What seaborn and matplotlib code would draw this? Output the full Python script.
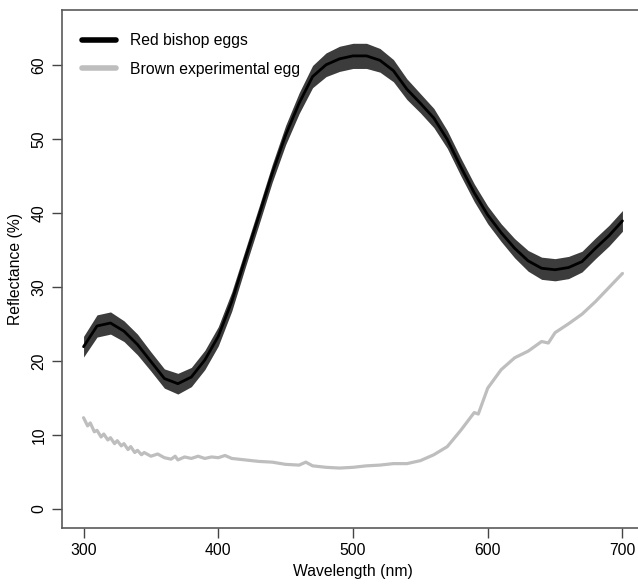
import numpy as np
import pandas as pd
import matplotlib
matplotlib.use("Agg")
import matplotlib.pyplot as plt
from matplotlib.lines import Line2D
import seaborn as sns

# Red bishop eggs: mean reflectance and error half-width, every 10 nm
red_nm = [300, 310, 320, 330, 340, 350, 360, 370, 380, 390,
          400, 410, 420, 430, 440, 450, 460, 470, 480, 490,
          500, 510, 520, 530, 540, 550, 560, 570, 580, 590,
          600, 610, 620, 630, 640, 650, 660, 670, 680, 690, 700]
red_mean = [21.9, 24.7, 25.1, 24.0, 22.2, 19.9, 17.6, 16.9, 17.8, 20.1,
            23.3, 28.0, 33.8, 39.5, 45.3, 50.5, 54.8, 58.4, 60.0, 60.8,
            61.2, 61.2, 60.6, 59.2, 56.7, 54.8, 52.8, 49.9, 46.2, 42.7,
            39.7, 37.3, 35.2, 33.5, 32.5, 32.3, 32.6, 33.4, 35.2, 36.9, 38.9]
red_err = [1.4, 1.5, 1.5, 1.4, 1.4, 1.3, 1.3, 1.4, 1.3, 1.3,
           1.3, 1.3, 1.2, 1.2, 1.2, 1.3, 1.4, 1.5, 1.6, 1.7,
           1.7, 1.7, 1.6, 1.5, 1.4, 1.3, 1.3, 1.2, 1.2, 1.2,
           1.2, 1.2, 1.3, 1.4, 1.5, 1.5, 1.5, 1.4, 1.4, 1.4, 1.4]

# Brown experimental egg reflectance
brown_nm = [300, 303, 305, 308, 310, 313, 315, 318, 320, 323, 325, 328, 330,
            333, 335, 338, 340, 343, 345, 350, 355, 360, 365, 368, 370, 375,
            380, 385, 390, 395, 400, 405, 410, 420, 430, 440, 450, 460, 465,
            470, 480, 490, 500, 510, 520, 530, 540, 550, 560, 570, 580, 590,
            593, 600, 610, 620, 630, 640, 645, 650, 660, 670, 680, 690, 700]
brown_refl = [12.3, 11.2, 11.6, 10.4, 10.6, 9.7, 10.1, 9.3, 9.6, 8.8, 9.2, 8.5, 8.8,
              8.0, 8.4, 7.6, 7.9, 7.3, 7.6, 7.1, 7.4, 6.9, 6.7, 7.1, 6.6, 7.0,
              6.8, 7.1, 6.8, 7.0, 6.9, 7.2, 6.8, 6.6, 6.4, 6.3, 6.0, 5.9, 6.3,
              5.8, 5.6, 5.5, 5.6, 5.8, 5.9, 6.1, 6.1, 6.5, 7.3, 8.4, 10.6, 13.0,
              12.8, 16.3, 18.8, 20.4, 21.3, 22.6, 22.4, 23.8, 25.0, 26.3, 28.0, 29.9, 31.8]

red_df = pd.DataFrame({"nm": red_nm, "refl": red_mean, "err": red_err})
brown_df = pd.DataFrame({"nm": brown_nm, "refl": brown_refl})

sns.set_style("ticks")
plt.rcParams["font.family"] = ["Liberation Sans", "DejaVu Sans"]
plt.rcParams["text.color"] = "black"
plt.rcParams["axes.labelcolor"] = "black"
plt.rcParams["xtick.labelcolor"] = "black"
plt.rcParams["ytick.labelcolor"] = "black"
fs = 11.3

fig = plt.figure(figsize=(6.38, 5.86), dpi=100)
ax = fig.add_axes([62 / 638, 58 / 586, 582 / 638, 518 / 586])

ax.fill_between(red_df["nm"], red_df["refl"] - red_df["err"], red_df["refl"] + red_df["err"],
                color="#3c3c3c", lw=0)
sns.lineplot(data=red_df, x="nm", y="refl", color="black", lw=2.0, ax=ax)
sns.lineplot(data=brown_df, x="nm", y="refl", color="#bebebe", lw=2.3, ax=ax)

ax.set_xlim(284, 716)
ax.set_ylim(-2.6, 67.4)
ax.set_xticks([300, 400, 500, 600, 700])
ax.set_yticks([0, 10, 20, 30, 40, 50, 60])
ax.tick_params(axis="both", direction="out", length=7, width=1, color="#444444",
               labelsize=fs, labelcolor="black", pad=4)
plt.setp(ax.get_yticklabels(), rotation=90, va="center")
for sp in ax.spines.values():
    sp.set_color("#5a5a5a")
    sp.set_linewidth(1.2)

ax.set_xlabel("Wavelength (nm)", fontsize=fs, labelpad=4, color="black")
ax.set_ylabel("Reflectance (%)", fontsize=fs, labelpad=6, color="black")

handles = [Line2D([], [], color="black", lw=4),
           Line2D([], [], color="#bebebe", lw=4)]
ax.legend(handles, ["Red bishop eggs", "Brown experimental egg"],
          loc="upper left", bbox_to_anchor=(68 / 638, 1 - 19 / 586),
          bbox_transform=fig.transFigure, frameon=False, fontsize=fs,
          handlelength=2.15, handletextpad=0.9, labelspacing=0.86,
          labelcolor="black")

fig.savefig("out.png", dpi=100)
